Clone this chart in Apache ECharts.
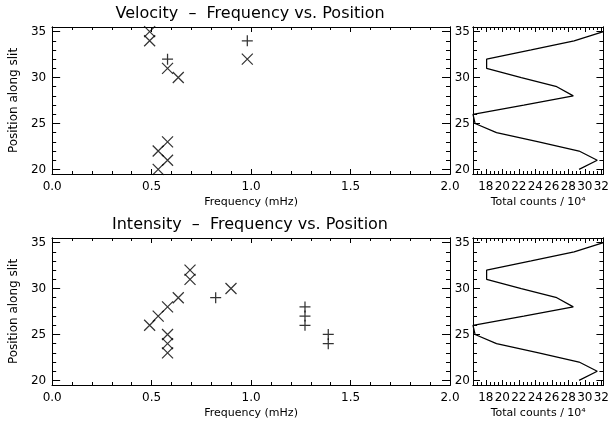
<!DOCTYPE html>
<html><head><meta charset="utf-8">
<script src="https://cdn.jsdelivr.net/npm/echarts@6/dist/echarts.min.js"></script>
<style>html,body{margin:0;padding:0;background:#fff}#c{width:612px;height:427px}</style>
</head><body><div id="c"></div>
<script>
// ---- data ----
const velCrossFreq = [0.49, 0.49, 0.58, 0.634, 0.981, 0.58, 0.533, 0.58, 0.533];
const velCrossPos  = [35, 34, 31, 30, 32, 23, 22, 21, 20];
const velPlusFreq  = [0.58, 0.981];
const velPlusPos   = [32, 34];
const intCrossFreq = [0.49, 0.533, 0.58, 0.634, 0.693, 0.693, 0.899, 0.58, 0.58, 0.58];
const intCrossPos  = [26, 27, 28, 29, 31, 32, 30, 25, 24, 23];
const intPlusFreq  = [0.822, 1.271, 1.271, 1.271, 1.388, 1.388];
const intPlusPos   = [29, 28, 27, 26, 25, 24];
const profilePos    = [20, 21, 22, 23, 24, 25, 26, 27, 28, 29, 30, 31, 32, 33, 34, 35];
const profileCounts = [29.3, 31.5, 29.3, 24.4, 19.3, 16.7, 16.45, 22.6, 28.6, 26.6, 22.3, 18.1, 18.1, 23.5, 28.7, 32.25];
const freqTicks   = [0.0, 0.5, 1.0, 1.5, 2.0];
const posTicks    = [20, 25, 30, 35];
const countTicks  = [18, 20, 22, 24, 26, 28, 30, 32];
const titles = ['Velocity  \u2013  Frequency vs. Position', 'Intensity  \u2013  Frequency vs. Position'];

// ---- helpers ----
function range(a, b, s) { const r = []; for (let v = a; v <= b + 1e-9; v += s) r.push(Math.round(v * 1000) / 1000); return r; }
const FONT = 'DejaVu Sans';
const freqMinor = range(0, 2, 0.1);
const posMinor = range(20, 35, 1);
const countMinor = range(16.5, 32, 0.5);

const grids = [
  {left: 52, top: 27, width: 398, height: 147},
  {left: 473, top: 27, width: 131, height: 147},
  {left: 52, top: 238, width: 398, height: 147},
  {left: 473, top: 238, width: 131, height: 147}
];
const xAxes = [], yAxes = [];
function ax(g, pos, min, max, vals, len, label) {
  const a = {
    type: 'value', gridIndex: g, position: pos, min: min, max: max,
    axisLine: {show: true, onZero: false, lineStyle: {color: '#000', width: 1}},
    axisTick: {show: true, inside: true, length: len, customValues: vals, lineStyle: {color: '#000', width: 1}},
    axisLabel: {show: false},
    splitLine: {show: false}
  };
  if (label) Object.assign(a, label.extra || {}), a.axisLabel = Object.assign({show: true, customValues: vals, color: '#000', fontSize: 12, fontFamily: FONT}, label.lab);
  return a;
}
const nameStyle = {color: '#000', fontSize: 11, fontFamily: FONT};
function panel(g, xmin, xmax, xMaj, xMin, xFmt, xName, yLabMargin, yName, xMajLen, yMajLen) {
  const xi = xAxes.length, yi = yAxes.length;
  xAxes.push(ax(g, 'bottom', xmin, xmax, xMaj, xMajLen, {lab: {formatter: xFmt, margin: 7},
    extra: {name: xName, nameLocation: 'middle', nameGap: 23, nameTextStyle: nameStyle}}));
  xAxes.push(ax(g, 'bottom', xmin, xmax, xMin, Math.ceil(xMajLen / 2)));
  xAxes.push(ax(g, 'top', xmin, xmax, xMaj, xMajLen));
  xAxes.push(ax(g, 'top', xmin, xmax, xMin, Math.ceil(xMajLen / 2)));
  const yExtra = yName ? {name: yName, nameLocation: 'middle', nameGap: 31,
    nameTextStyle: {color: '#000', fontSize: 12, fontFamily: FONT}} : {};
  yAxes.push(ax(g, 'left', 19.5, 35.5, posTicks, yMajLen, {lab: {margin: yLabMargin, formatter: v => String(Math.round(v))}, extra: yExtra}));
  yAxes.push(ax(g, 'left', 19.5, 35.5, posMinor, Math.ceil(yMajLen / 2)));
  yAxes.push(ax(g, 'right', 19.5, 35.5, posTicks, yMajLen));
  yAxes.push(ax(g, 'right', 19.5, 35.5, posMinor, Math.ceil(yMajLen / 2)));
  return {xi, yi};
}
const fFmt = v => v.toFixed(1);
const cFmt = v => String(Math.round(v));
const p0 = panel(0, 0, 2, freqTicks, freqMinor, fFmt, 'Frequency (mHz)', 6, 'Position along slit', 5, 8);
const p1 = panel(1, 16.45, 32.25, countTicks, countMinor, cFmt, 'Total counts / 10\u2074', 3, null, 5, 7);
const p2 = panel(2, 0, 2, freqTicks, freqMinor, fFmt, 'Frequency (mHz)', 6, 'Position along slit', 5, 8);
const p3 = panel(3, 16.45, 32.25, countTicks, countMinor, cFmt, 'Total counts / 10\u2074', 3, null, 5, 7);

const CROSS = 'path://M0,0L10,10M0,10L10,0';
const PLUS = 'path://M5,0L5,10M0,5L10,5';
function zip(a, b) { return a.map((v, i) => [v, b[i]]); }
function scatter(p, sym, xs, ys) {
  return {type: 'scatter', xAxisIndex: p.xi, yAxisIndex: p.yi, symbol: sym, symbolSize: 11,
    itemStyle: {color: 'rgba(0,0,0,0)', borderColor: '#000', borderWidth: 1.25},
    emphasis: {disabled: true}, silent: true, data: zip(xs, ys)};
}
function profile(p) {
  return {type: 'line', xAxisIndex: p.xi, yAxisIndex: p.yi, showSymbol: false, symbol: 'none',
    lineStyle: {color: '#000', width: 1.25}, silent: true, data: zip(profileCounts, profilePos)};
}
const chart = echarts.init(document.getElementById('c'), null, {renderer: 'canvas'});
chart.setOption({
  animation: false,
  backgroundColor: '#fff',
  grid: grids,
  xAxis: xAxes,
  yAxis: yAxes,
  graphic: [
    {type: 'text', x: 250, y: 14, style: {text: titles[0], font: '16px "DejaVu Sans"', fill: '#000', align: 'center', verticalAlign: 'middle'}},
    {type: 'text', x: 250, y: 225, style: {text: titles[1], font: '16px "DejaVu Sans"', fill: '#000', align: 'center', verticalAlign: 'middle'}}
  ],
  series: [
    scatter(p0, CROSS, velCrossFreq, velCrossPos),
    scatter(p0, PLUS, velPlusFreq, velPlusPos),
    profile(p1),
    scatter(p2, CROSS, intCrossFreq, intCrossPos),
    scatter(p2, PLUS, intPlusFreq, intPlusPos),
    profile(p3)
  ]
});
</script></body></html>
